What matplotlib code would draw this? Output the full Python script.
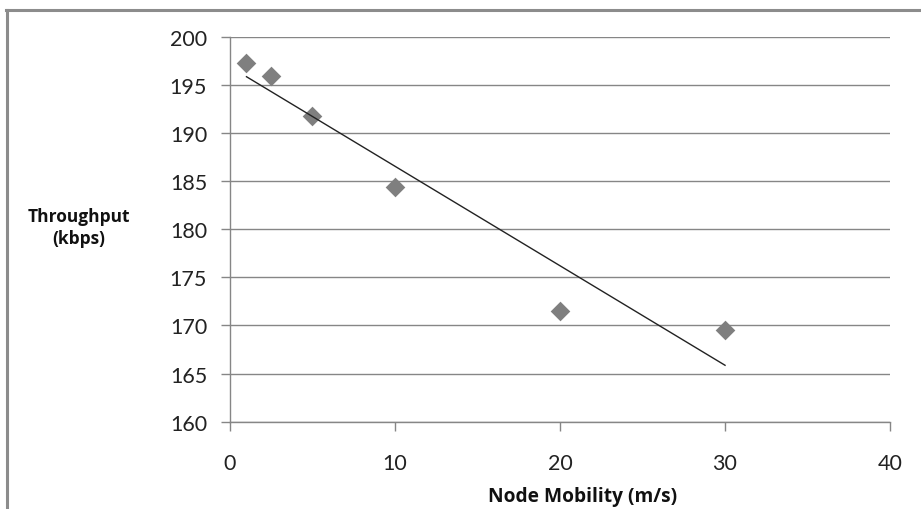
import numpy as np
import matplotlib
matplotlib.use("Agg")
import matplotlib.pyplot as plt
from matplotlib.lines import Line2D

plt.rcParams['font.family'] = ['Lato', 'DejaVu Sans']

mobility = [1, 2.5, 5, 10, 20, 30]
throughput = [197.3, 195.9, 191.8, 184.4, 171.5, 169.5]
x_ticks = [0, 10, 20, 30, 40]
y_ticks = [160, 165, 170, 175, 180, 185, 190, 195, 200]
x_label = "Node Mobility (m/s)"
y_label = "Throughput\n(kbps)"

fig = plt.figure(figsize=(9.21, 5.10), dpi=100)
ax = fig.add_axes([0.2497, 0.1712, 0.9664 - 0.2497, 0.9263 - 0.1712])

grid_c = '#868686'
ax.set_xlim(0, 40)
ax.set_ylim(160, 200)
ax.set_xticks(x_ticks)
ax.set_yticks(y_ticks)
ax.yaxis.grid(True, color=grid_c, linewidth=1.0)
ax.set_axisbelow(True)
for s in ['top', 'right']:
    ax.spines[s].set_visible(False)
for s in ['left', 'bottom']:
    ax.spines[s].set_color(grid_c)
    ax.spines[s].set_linewidth(1.0)
ax.tick_params(axis='both', direction='out', length=6.5, width=1.0, color=grid_c,
               labelsize=15.5, labelcolor='#222222')
ax.tick_params(axis='y', pad=10)
ax.tick_params(axis='x', pad=16)

ax.scatter(mobility, throughput, marker='D', s=100, color='#7F7F7F', zorder=3, linewidths=0)

coef = np.polyfit(mobility, throughput, 1)
xs = np.array([min(mobility), max(mobility)])
ax.plot(xs, np.polyval(coef, xs), color='#222222', linewidth=1.0, zorder=4)

fig.text(0.0858, 0.553, y_label, ha='center', va='center', fontsize=12.5,
         fontweight='bold', color='#111111', linespacing=1.35,
         family=['Open Sans', 'DejaVu Sans'])
fig.text(0.632, 0.026, x_label, ha='center', va='center', fontsize=13.8,
         fontweight='bold', color='#111111',
         family=['Open Sans', 'DejaVu Sans'])

# outer chart border (top and left edges visible)
fig.add_artist(Line2D([0.008, 0.008], [0.0, 0.979], transform=fig.transFigure,
                      color='#8C8C8C', linewidth=2.2))
fig.add_artist(Line2D([0.007, 1.0], [0.979, 0.979], transform=fig.transFigure,
                      color='#8C8C8C', linewidth=2.2))

fig.savefig('out.png', dpi=100)
